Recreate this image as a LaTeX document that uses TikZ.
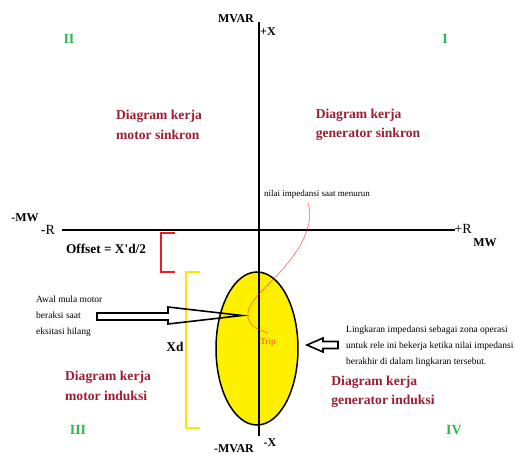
\documentclass[tikz,border=0pt]{standalone}
\usepackage{fontspec}
\usetikzlibrary{shapes.geometric}
\setmainfont[Ligatures=TeXOff]{Liberation Serif}
\definecolor{zonered}{RGB}{155,30,50}
\definecolor{qgreen}{RGB}{45,185,75}
\definecolor{eggyellow}{RGB}{255,240,0}
\definecolor{brkyellow}{RGB}{255,232,0}
\definecolor{brkred}{RGB}{230,30,40}
\definecolor{tripred}{RGB}{240,80,30}
\begin{document}
\begin{tikzpicture}[x=1pt,y=-1pt,
  lbl/.style={font=\fontsize{12}{14}\selectfont\bfseries, inner sep=0pt},
  axlbl/.style={font=\fontsize{14}{16}\selectfont, inner sep=0pt},
  zone/.style={font=\fontsize{13.6}{19.5}\selectfont\bfseries, text=zonered, align=left, inner sep=0pt},
  quad/.style={font=\fontsize{14}{16}\selectfont\bfseries, text=qgreen, inner sep=0pt},
  note/.style={font=\fontsize{9.5}{16}\selectfont, align=left, inner sep=0pt},
  axis/.style={line width=2.4pt},
  hollow/.style={line width=1.6pt, line join=miter},
  bracket/.style={line width=2pt},
  trace/.style={draw=red!85, opacity=0.7, line width=0.6pt},
]
\useasboundingbox (0,0) rectangle (515,455);

% impedance circle
\node[draw=black, line width=1.5pt, fill=eggyellow, ellipse, minimum width=82pt, minimum height=153pt, inner sep=0pt] (egg) at (257,348.5) {};

% axes
\coordinate (ytop) at (259,22);
\coordinate (ybot) at (259,436);
\coordinate (xl) at (62,230);
\coordinate (xr) at (455,230);
\draw[axis] (xl) -- (xr);
\draw[line width=1.5pt] (ytop) -- (ybot);

% axis labels
\node[lbl] (mvar) at (236,18.5) {MVAR};
\node[lbl] (px) at (268,32) {+X};
\node[lbl] (mmw) at (25,218) {-MW};
\node[axlbl] (mr) at (48,230) {-R};
\node[axlbl] (pr) at (463,229) {+R};
\node[lbl] (mw) at (485,243) {MW};
\node[lbl] (mmvar) at (234,449) {-MVAR};
\node[lbl] (mx) at (270,443) {-X};

% quadrant numbers
\node[quad] (q2) at (69,38.5) {II};
\node[quad] (q1) at (445,38.5) {I};
\node[quad] (q3) at (78,430) {III};
\node[quad] (q4) at (454,430) {IV};

% zone texts
\node[zone] (ms) at (159,125) {Diagram kerja\\motor sinkron};
\node[zone] (gs) at (368,125) {Diagram kerja\\generator sinkron};
\node[zone] (mi) at (108,386) {Diagram kerja\\motor induksi};
\node[zone] (gi) at (383,392) {Diagram kerja\\generator induksi};

% brackets
\draw[bracket, brkred] (175,233) -- (161,233) -- (161,272) -- (175,272);
\draw[bracket, brkyellow] (200,272) -- (186,272) -- (186,428) -- (200,428);
\node[font=\fontsize{13.3}{15}\selectfont\bfseries, inner sep=0pt] (offset) at (106,249) {Offset = X'd/2};
\node[font=\fontsize{13.3}{15}\selectfont\bfseries, inner sep=0pt] (xd) at (175,347) {Xd};

% notes
\node[note, font=\fontsize{9}{11}\selectfont] (nilai) at (317,194) {nilai impedansi saat menurun};
\node[note, anchor=west] (awal) at (36,316) {Awal mula motor\\beraksi saat\\eksitasi hilang};
\node[note, anchor=west] (ling) at (346,346) {Lingkaran impedansi sebagai zona operasi\\untuk rele ini bekerja ketika nilai impedansi\\berakhir di dalam lingkaran tersebut.};
\node[font=\fontsize{9}{11}\selectfont, text=tripred, inner sep=0pt] (trip) at (268,342) {Trip};

% impedance trace
\coordinate (tstart) at (308,203);
\coordinate (tend) at (268,333);
\draw[trace] (tstart) .. controls (314,222) and (304,245) .. (282,270)
  .. controls (264,290) and (245,304) .. (248,318)
  .. controls (251,328) and (260,330) .. (tend);

% hollow arrows
\draw[hollow] (97,313) -- (168,313) -- (168,307) -- (242,315.5) -- (168,324) -- (168,320) -- (97,320) -- cycle;
\draw[hollow] (338,341.5) -- (323,341.5) -- (323,338) -- (307,345) -- (323,352) -- (323,348.5) -- (338,348.5) -- cycle;
\end{tikzpicture}
\end{document}
